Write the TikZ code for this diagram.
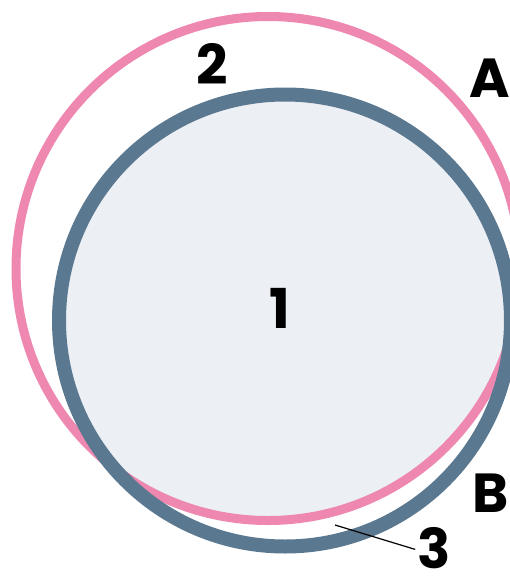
\documentclass[tikz,border=0pt]{standalone}
\usepackage{fontspec}
\setmainfont{Poppins}
\definecolor{ringpink}{HTML}{EE88B0}
\definecolor{ringblue}{HTML}{5B7891}
\definecolor{corefill}{HTML}{ECEFF4}
\begin{document}
\begin{tikzpicture}[x=1pt,y=-1pt,
  lbl/.style={font=\fontsize{55}{55}\selectfont\bfseries, text=black, inner sep=0pt},
  outerring/.style={draw=ringpink, line width=9pt},
  innerring/.style={draw=ringblue, line width=14pt}]
\useasboundingbox (0,0) rectangle (510,576);
% centres of the two rings
\coordinate (pc) at (268,268.5);
\coordinate (bc) at (285,320.5);
% shared area of both rings
\begin{scope}
  \clip (pc) circle (252);
  \fill[corefill] (bc) circle (226);
\end{scope}
\draw[outerring] (pc) circle (252);
\draw[innerring] (bc) circle (226);
% labels
\node[lbl] (one) at (280,308) {1};
\node[lbl] (two) at (212,64) {2};
\node[lbl] (la) at (490,78) {A};
\node[lbl] (lb) at (491,493) {B};
\node[lbl] (three) at (434,548) {3};
\coordinate (gap) at (335,525);
\draw[black, line width=1.2pt, shorten >=2pt] (gap) -- (three.west |- 0,550);
\end{tikzpicture}
\end{document}
